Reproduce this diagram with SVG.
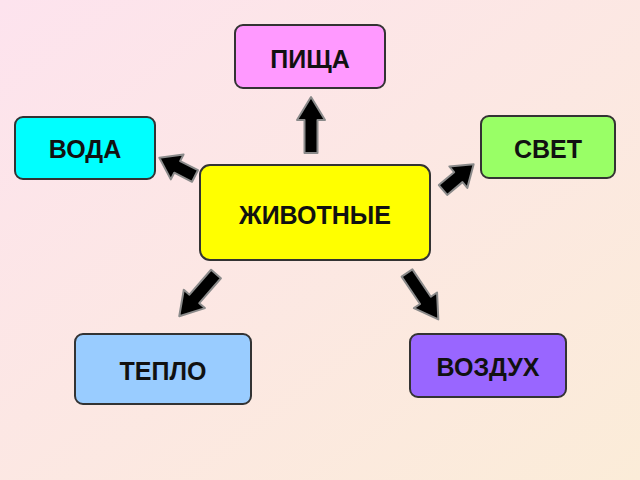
<svg xmlns="http://www.w3.org/2000/svg" width="640" height="480" viewBox="0 0 640 480">
<defs>
<linearGradient id="bg" x1="0" y1="0" x2="1" y2="1">
<stop offset="0" stop-color="#fde3ee"/><stop offset="1" stop-color="#fbecd8"/>
</linearGradient>
<path id="al" d="M-6.5,0 L6.5,0 L6.5,-33 L14,-33 L0,-56 L-14,-33 L-6.5,-33 Z"/>
<path id="as" d="M-6.5,0 L6.5,0 L6.5,-20 L14,-20 L0,-40 L-14,-20 L-6.5,-20 Z"/>
</defs>
<style>
.box{stroke:#333;stroke-width:2}
.t{font-family:"Liberation Sans",Arial,sans-serif;font-weight:bold;font-size:25px;fill:#111;text-anchor:middle}
.arr{fill:#000;stroke:#8a8a8a;stroke-width:2;stroke-linejoin:round}
</style>
<rect width="640" height="480" fill="url(#bg)"/>
<g id="connectors" class="arr">
<use href="#al" transform="translate(311,153)"/>
<use href="#as" transform="translate(195,176) rotate(-63)"/>
<use href="#as" transform="translate(443,190) rotate(50)"/>
<use href="#al" transform="translate(216,274) rotate(-139)"/>
<use href="#al" transform="translate(407,273) rotate(146)"/>
</g>
<g id="pishcha"><rect class="box" x="235" y="25" width="150" height="63" rx="8" fill="#ff99ff"/><text class="t" x="310" y="68">ПИЩА</text></g>
<g id="voda"><rect class="box" x="15" y="117" width="140" height="62" rx="8" fill="#00ffff"/><text class="t" x="85" y="158">ВОДА</text></g>
<g id="svet"><rect class="box" x="481" y="116" width="134" height="62" rx="8" fill="#99ff66"/><text class="t" x="548" y="158">СВЕТ</text></g>
<g id="zhivotnye"><rect class="box" x="200" y="165" width="230" height="95" rx="10" fill="#ffff00"/><text class="t" x="315" y="224">ЖИВОТНЫЕ</text></g>
<g id="teplo"><rect class="box" x="75" y="334" width="176" height="70" rx="8" fill="#99ccff"/><text class="t" x="163" y="380">ТЕПЛО</text></g>
<g id="vozdukh"><rect class="box" x="410" y="334" width="156" height="63" rx="8" fill="#9966ff"/><text class="t" x="488" y="376">ВОЗДУХ</text></g>
</svg>
